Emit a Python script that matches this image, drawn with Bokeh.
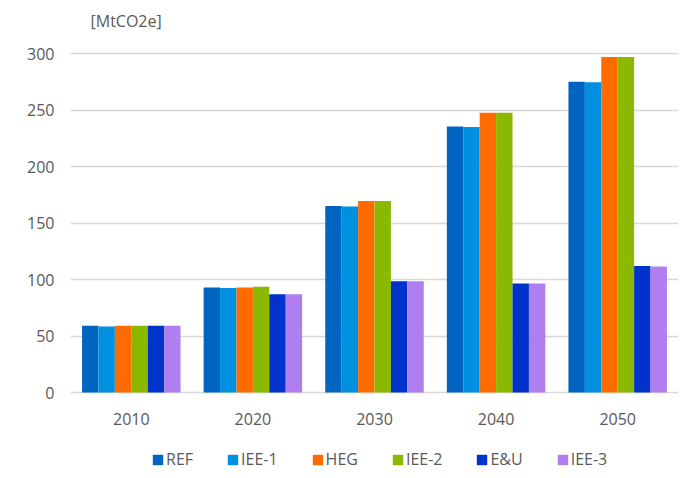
from bokeh.plotting import figure
from bokeh.models import ColumnDataSource, Legend, LegendItem, FactorRange, Label
from bokeh.transform import dodge
from bokeh.core.properties import value
from bokeh.embed import file_html
from bokeh.resources import INLINE

years = ["2010", "2020", "2030", "2040", "2050"]
series = ["REF", "IEE-1", "HEG", "IEE-2", "E&U", "IEE-3"]
REF = [59, 93, 165, 235.5, 275]
IEE1 = [58.5, 92.5, 164.5, 235, 274.5]
HEG = [59, 93, 169.5, 247.5, 297]
IEE2 = [59, 93.5, 169.5, 247.5, 297]
EU = [59, 87, 98.5, 96.5, 112]
IEE3 = [59, 87, 98.5, 96.5, 111.5]
yticks = [0, 50, 100, 150, 200, 250, 300]
unit = "[MtCO2e]"
colors = ["#0064C1", "#0090E1", "#FF6B00", "#8AB900", "#0033CB", "#B07FEF"]

src = ColumnDataSource(dict(year=years, REF=REF, IEE1=IEE1, HEG=HEG, IEE2=IEE2, EU=EU, IEE3=IEE3))
cols = ["REF", "IEE1", "HEG", "IEE2", "EU", "IEE3"]

FONT = "Open Sans"
GRAY = "#595959"

# frame spans the whole height; 0..300 occupies px 392..53 of a 470 px frame
PX = (392 - 53) / 300.0
Y_TOP = 300 + 53 / PX
Y_BOT = -(470 - 392) / PX

p = figure(x_range=FactorRange(*years), y_range=(Y_BOT, Y_TOP), frame_width=608, frame_height=470,
           output_backend="svg", toolbar_location=None,
           min_border_left=70, min_border_right=0, min_border_top=0, min_border_bottom=0)
p.outline_line_color = None
p.xaxis.visible = False

bw = 0.135
offs = [-2.5 * bw, -1.5 * bw, -0.5 * bw, 0.5 * bw, 1.5 * bw, 2.5 * bw]
items = []
for c, name, col, off in zip(cols, series, colors, offs):
    r = p.vbar(x=dodge("year", off, range=p.x_range), top=c, width=bw, source=src,
               fill_color=col, line_color=None)
    items.append(LegendItem(label=name, renderers=[r]))

# category labels below the zero line
p.text(x=years, y=[-26 / PX] * len(years), text=years, text_font=value(FONT),
       text_font_size="16px", text_color=GRAY, text_align="center", text_baseline="middle")

# unit label
p.add_layout(Label(x=20 / 121.6, y=Y_TOP - 20 / PX, text=unit, text_font=FONT,
                   text_font_size="16px", text_color=GRAY, text_baseline="middle"))

p.ygrid.grid_line_color = "#D9D9D9"
p.ygrid.grid_line_width = 1.5
p.xgrid.grid_line_color = None
p.yaxis.ticker = yticks
p.yaxis.axis_line_color = None
p.yaxis.major_tick_line_color = None
p.yaxis.minor_tick_line_color = None
p.yaxis.major_label_text_font = FONT
p.yaxis.major_label_text_font_size = "16px"
p.yaxis.major_label_text_color = GRAY
p.yaxis.major_label_standoff = 10

legend = Legend(items=items, orientation="horizontal", location=(81, 0),
                label_text_font=FONT, label_text_font_size="16px", label_text_color=GRAY,
                glyph_width=13, glyph_height=13, spacing=33, label_standoff=2,
                border_line_color=None, background_fill_alpha=0, padding=0, margin=0)
p.add_layout(legend)

open("out.html", "w").write(file_html(p, INLINE))
